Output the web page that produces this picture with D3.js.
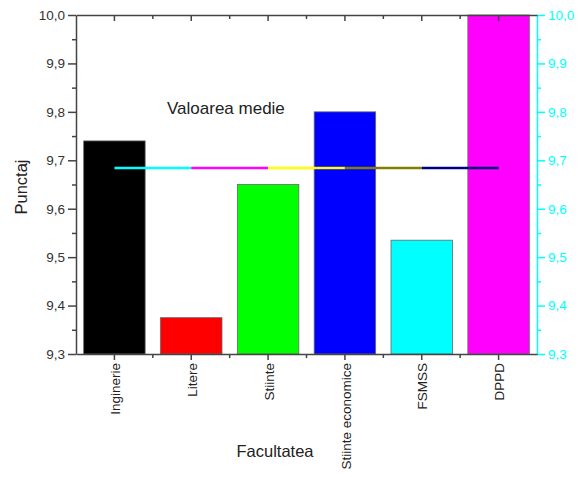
<!DOCTYPE html>
<html><head><meta charset="utf-8">
<script src="https://cdn.jsdelivr.net/npm/d3@7"></script>
<style>body{margin:0;background:#fff}svg{display:block}text{font-family:"Liberation Sans",Arial,sans-serif}</style>
</head><body><svg id="c" width="580" height="477"></svg>
<script>
const categories = ["Inginerie","Litere","Stiinte","Stiinte economice","FSMSS","DPPD"];
const values = [9.74, 9.375, 9.65, 9.80, 9.535, 10.0];
const barColors = ["#000000","#ff0000","#00ff00","#0000ff","#00ffff","#ff00ff"];
const meanValue = 9.684;
const meanSegColors = ["#00ffff","#ff00ff","#ffff00","#808000","#000080"];
const yTicks = [9.3,9.4,9.5,9.6,9.7,9.8,9.9,10.0];
const yMinor = [9.35,9.45,9.55,9.65,9.75,9.85,9.95];

const svg = d3.select("#c");
const L=76, R=537, T=15, B=354;
const x = d3.scaleBand().domain(categories).range([L,R]).paddingInner(0.2).paddingOuter(0.1);
const y = d3.scaleLinear().domain([9.3,10.0]).range([B,T]);
const fmt = d => d3.format(".1f")(d).replace(".",",");
const axisCol = "#444";

// bars
svg.selectAll("rect.bar").data(values).join("rect")
  .attr("x",(d,i)=>x(categories[i])).attr("width",x.bandwidth())
  .attr("y",d=>y(d)).attr("height",d=>B-y(d))
  .attr("fill",(d,i)=>barColors[i]).attr("stroke","#666").attr("stroke-width",0.8);

// mean line segments
const centers = categories.map(c=>x(c)+x.bandwidth()/2);
svg.selectAll("line.mean").data(meanSegColors).join("line")
  .attr("x1",(d,i)=>centers[i]).attr("x2",(d,i)=>centers[i+1])
  .attr("y1",y(meanValue)).attr("y2",y(meanValue))
  .attr("stroke",d=>d).attr("stroke-width",2.5);

svg.append("text").attr("x",167).attr("y",114).attr("font-size",17).attr("fill","#222").text("Valoarea medie");

// left axis
const gl = svg.append("g").attr("transform",`translate(${L},0)`);
gl.call(d3.axisLeft(y).tickValues(yTicks).tickFormat(fmt).tickSize(8).tickSizeOuter(0));
gl.append("g").call(d3.axisLeft(y).tickValues(yMinor).tickFormat("").tickSize(4).tickSizeOuter(0)).select(".domain").remove();
gl.selectAll("path,line").attr("stroke",axisCol).attr("stroke-width",1.5);
gl.selectAll("text").attr("font-size",13.5).attr("fill","#333").attr("font-family","Liberation Sans, Arial, sans-serif");

// right axis (cyan)
const gr = svg.append("g").attr("transform",`translate(${R},0)`);
gr.call(d3.axisRight(y).tickValues(yTicks).tickFormat(fmt).tickSize(8).tickSizeOuter(0));
gr.append("g").call(d3.axisRight(y).tickValues(yMinor).tickFormat("").tickSize(4).tickSizeOuter(0)).select(".domain").remove();
gr.selectAll("path,line").attr("stroke","#00ffff").attr("stroke-width",1.5);
gr.selectAll("text").attr("font-size",13.5).attr("fill","#00ffff").attr("font-family","Liberation Sans, Arial, sans-serif");

// bottom axis
const gb = svg.append("g").attr("transform",`translate(0,${B})`);
gb.call(d3.axisBottom(x).tickSize(6).tickSizeOuter(0));
gb.selectAll("path,line").attr("stroke",axisCol).attr("stroke-width",1.5);
gb.selectAll("text").attr("font-size",13.5).attr("fill","#222").attr("font-family","Liberation Sans, Arial, sans-serif")
  .attr("transform","rotate(-90)").attr("text-anchor","end").attr("x",-9).attr("y",1).attr("dy","0.35em");
// minor ticks at band boundaries
const bounds = categories.slice(1).map(c=>x(c)-x.step()*x.paddingInner()/2);
svg.selectAll("line.bminor").data(bounds).join("line")
  .attr("x1",d=>d).attr("x2",d=>d).attr("y1",B).attr("y2",B+4).attr("stroke",axisCol).attr("stroke-width",1.5);

// top axis
const gt = svg.append("g").attr("transform",`translate(0,${T})`);
gt.call(d3.axisTop(x).tickSize(-6).tickFormat("").tickSizeOuter(0));
gt.selectAll("path,line").attr("stroke",axisCol).attr("stroke-width",1.5);
svg.selectAll("line.tminor").data(bounds).join("line")
  .attr("x1",d=>d).attr("x2",d=>d).attr("y1",T).attr("y2",T+4).attr("stroke",axisCol).attr("stroke-width",1.5);

// axis titles
svg.append("text").attr("transform","translate(27,187) rotate(-90)").attr("text-anchor","middle")
  .attr("font-size",16.5).attr("fill","#222").text("Punctaj");
svg.append("text").attr("x",275).attr("y",457).attr("text-anchor","middle")
  .attr("font-size",16.5).attr("fill","#222").text("Facultatea");
</script></body></html>
